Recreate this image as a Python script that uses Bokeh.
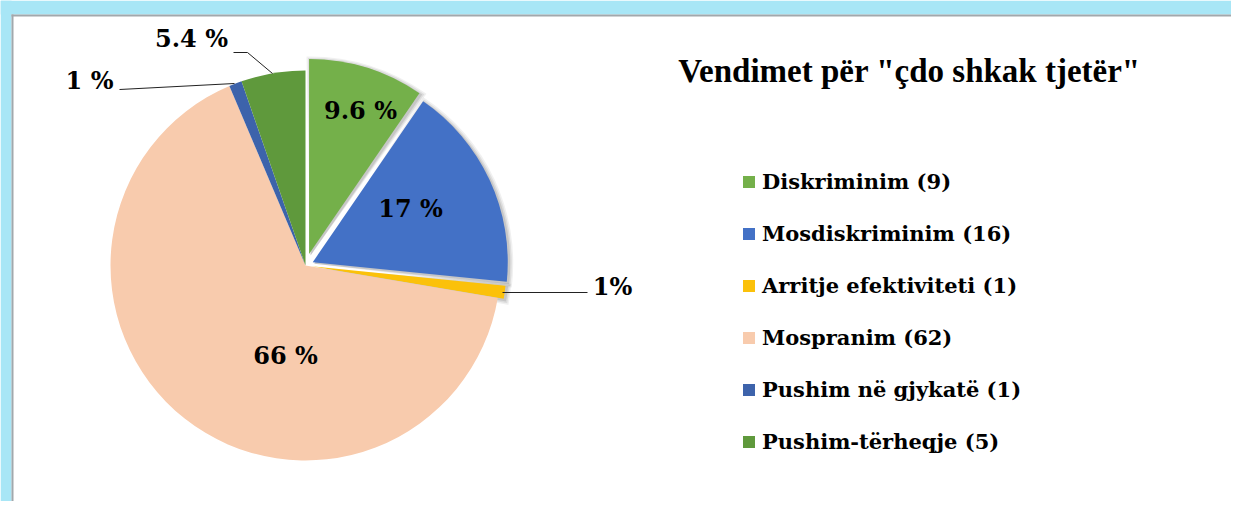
import numpy as np
from bokeh.plotting import figure
from bokeh.models import Range1d, ColumnDataSource, Legend, LegendItem
from bokeh.core.properties import value
from bokeh.embed import file_html
from bokeh.resources import INLINE

# ---------------- data ----------------
categories = ["Diskriminim", "Mosdiskriminim", "Arritje efektiviteti",
              "Mospranim", "Pushim në gjykatë", "Pushim-tërheqje"]
counts = [9, 16, 1, 62, 1, 5]
pct_labels = ["9.6 %", "17 %", "1%", "66 %", "1 %", "5.4 %"]
title_text = 'Vendimet për "çdo shkak tjetër"'

# ---------------- style / layout ----------------
colors = ["#74b04a", "#4371c6", "#fbc10a", "#f8cbad", "#3d63ab", "#5f993c"]
explode = [12, 8, 6, 0, 0, 0]

W, H = 1231, 501


def Y(ys):
    """picture y (px from top) -> data y"""
    return H - np.asarray(ys, dtype=float)


CX, CY, R = 305.0, float(Y(265)), 195.0

# label layout (picture px)
label_x = [360, 410, 612, 285, 89, 191]
label_y = [110, 208, 286, 355, 80, 38]
leader_xs = [[502, 587], [119, 234], [233, 247, 272]]
leader_ys = [[292, 292], [89, 83], [52, 52, 73]]

# ---------------- geometry from data ----------------
total = float(sum(counts))
cum = np.concatenate([[0.0], np.cumsum(counts)])
top_ang = np.pi / 2 - cum[:-1] / total * 2 * np.pi
bot_ang = np.pi / 2 - cum[1:] / total * 2 * np.pi
mid = (top_ang + bot_ang) / 2
ex = np.array(explode, dtype=float)
xs = CX + ex * np.cos(mid)
ys = CY + ex * np.sin(mid)

src = ColumnDataSource(dict(x=xs, y=ys, start=bot_ang, end=top_ang,
                            color=colors, cat=categories))

p = figure(width=W, height=H, output_backend="svg", toolbar_location=None,
           x_range=Range1d(0, W), y_range=Range1d(0, H),
           x_axis_type=None, y_axis_type=None, min_border=0,
           outline_line_color=None, background_fill_color="white",
           border_fill_color="white")
p.grid.visible = False

# frame
p.quad(left=[0], right=[W], top=[Y(0)], bottom=[Y(14)], fill_color="#a8e6f6", line_color=None)
p.quad(left=[0], right=[11], top=[Y(0)], bottom=[Y(H)], fill_color="#a8e6f6", line_color=None)
p.quad(left=[11], right=[W], top=[Y(14)], bottom=[Y(16)], fill_color="#a2a8ac", line_color=None)
p.quad(left=[11], right=[13], top=[Y(14)], bottom=[Y(H)], fill_color="#a2a8ac", line_color=None)

# soft shadows of exploded slices
exp_idx = [i for i, e in enumerate(explode) if e > 0]
for k, a in [(4, 0.06), (2.5, 0.08), (1, 0.1)]:
    p.wedge(x=[xs[i] + 1.5 for i in exp_idx], y=[ys[i] - 1.5 for i in exp_idx], radius=R + k,
            start_angle=[bot_ang[i] - k / R for i in exp_idx],
            end_angle=[top_ang[i] + k / R for i in exp_idx],
            fill_color="black", fill_alpha=a, line_color=None)

r = p.wedge(x="x", y="y", radius=R, start_angle="start", end_angle="end",
            fill_color="color", line_color=None, source=src)

# leader lines
p.multi_line(xs=leader_xs, ys=[list(Y(v)) for v in leader_ys], line_color="#222222", line_width=1)

# data labels
p.text(x=label_x, y=Y(label_y), text=pct_labels, text_align="center", text_baseline="middle",
       text_font=value("DejaVu Serif"), text_font_style="bold", text_font_size="24px",
       text_color="black")

# title
p.text(x=[909], y=Y([70]), text=[title_text], text_align="center", text_baseline="middle",
       text_font=value("Liberation Serif"), text_font_style="bold", text_font_size="33px",
       text_color="black")

items = [LegendItem(label=f"{c} ({n})", renderers=[r], index=i)
         for i, (c, n) in enumerate(zip(categories, counts))]
legend = Legend(items=items, location=(741, 47), glyph_width=15, glyph_height=15,
                label_standoff=6, spacing=27, padding=0, margin=0,
                border_line_color=None, background_fill_alpha=0,
                label_text_font="DejaVu Serif", label_text_font_style="bold",
                label_text_font_size="21px", label_text_color="black", label_height=22)
p.add_layout(legend)

open("out.html", "w").write(file_html(p, INLINE))
